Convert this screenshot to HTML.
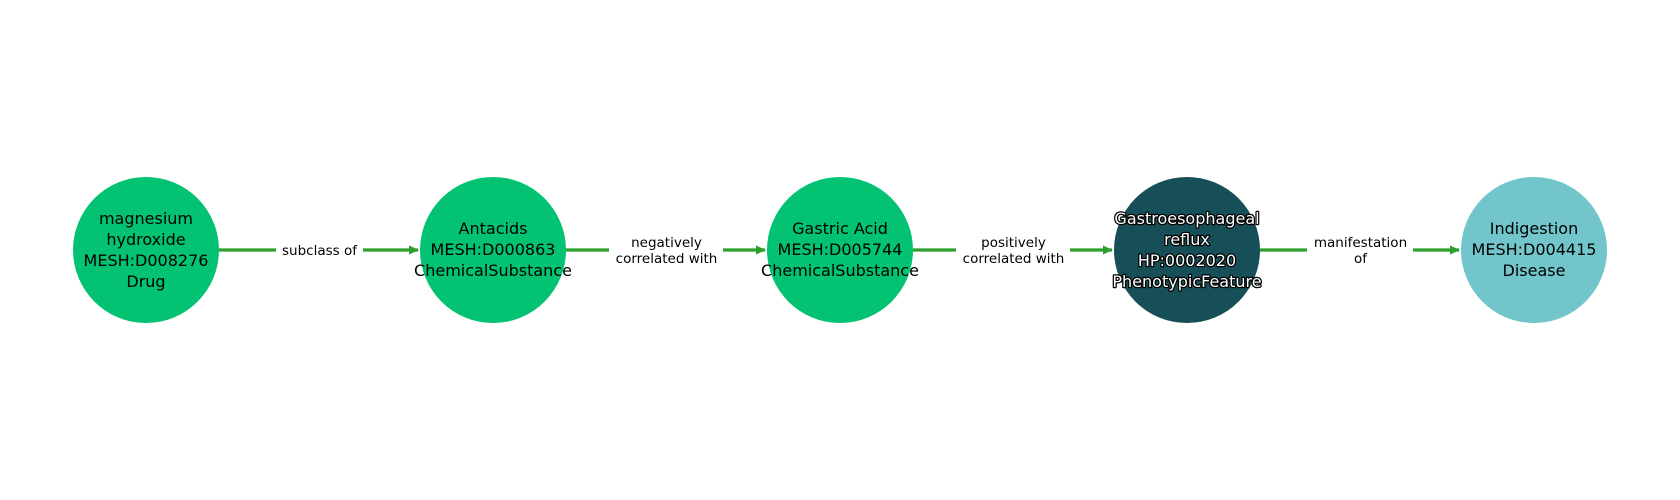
<!DOCTYPE html>
<html><head><meta charset="utf-8"><style>html,body{margin:0;padding:0;background:#fff;width:1680px;height:500px;overflow:hidden}</style></head>
<body>
<svg width="1680" height="500" xmlns="http://www.w3.org/2000/svg" font-family="'DejaVu Sans','Liberation Sans',sans-serif">
<defs><marker id="a" markerWidth="10" markerHeight="10" refX="9" refY="5" orient="auto" markerUnits="userSpaceOnUse"><path d="M0,0.5 L10,5 L0,9.5 Z" fill="#2ca02c"/></marker></defs>
<g stroke="#2ca02c" stroke-width="3.2" fill="none">
<line x1="219" y1="250" x2="418" y2="250" marker-end="url(#a)"/>
<line x1="566" y1="250" x2="765" y2="250" marker-end="url(#a)"/>
<line x1="913" y1="250" x2="1112" y2="250" marker-end="url(#a)"/>
<line x1="1260" y1="250" x2="1459" y2="250" marker-end="url(#a)"/>
</g>
<g fill="#fff">
<rect x="276" y="240" width="87" height="20"/>
<rect x="609" y="232" width="114" height="36"/>
<rect x="956" y="232" width="114" height="36"/>
<rect x="1307" y="232" width="106" height="36"/>
</g>
<g font-size="13.5" text-anchor="middle" fill="#000">
<text x="319.5" y="255">subclass of</text>
<text x="666.5" y="247">negatively</text><text x="666.5" y="263">correlated with</text>
<text x="1013.5" y="247">positively</text><text x="1013.5" y="263">correlated with</text>
<text x="1360.5" y="247">manifestation</text><text x="1360.5" y="263">of</text>
</g>
<circle cx="146" cy="250" r="73" fill="#03c372"/>
<circle cx="493" cy="250" r="73" fill="#03c372"/>
<circle cx="840" cy="250" r="73" fill="#03c372"/>
<circle cx="1187" cy="250" r="73" fill="#164f58"/>
<circle cx="1534" cy="250" r="73" fill="#72c6cb"/>
<g font-size="16" text-anchor="middle" fill="#000">
<text x="146" y="224">magnesium</text><text x="146" y="245">hydroxide</text><text x="146" y="266">MESH:D008276</text><text x="146" y="287">Drug</text>
<text x="493" y="234">Antacids</text><text x="493" y="255">MESH:D000863</text><text x="493" y="276">ChemicalSubstance</text>
<text x="840" y="234">Gastric Acid</text><text x="840" y="255">MESH:D005744</text><text x="840" y="276">ChemicalSubstance</text>
<text x="1534" y="234">Indigestion</text><text x="1534" y="255">MESH:D004415</text><text x="1534" y="276">Disease</text>
<g fill="#fff" stroke="#000" stroke-width="2.5" paint-order="stroke" stroke-linejoin="round">
<text x="1187" y="224">Gastroesophageal</text><text x="1187" y="245">reflux</text><text x="1187" y="266">HP:0002020</text><text x="1187" y="287">PhenotypicFeature</text>
</g>
</g>
</svg>
</body></html>
